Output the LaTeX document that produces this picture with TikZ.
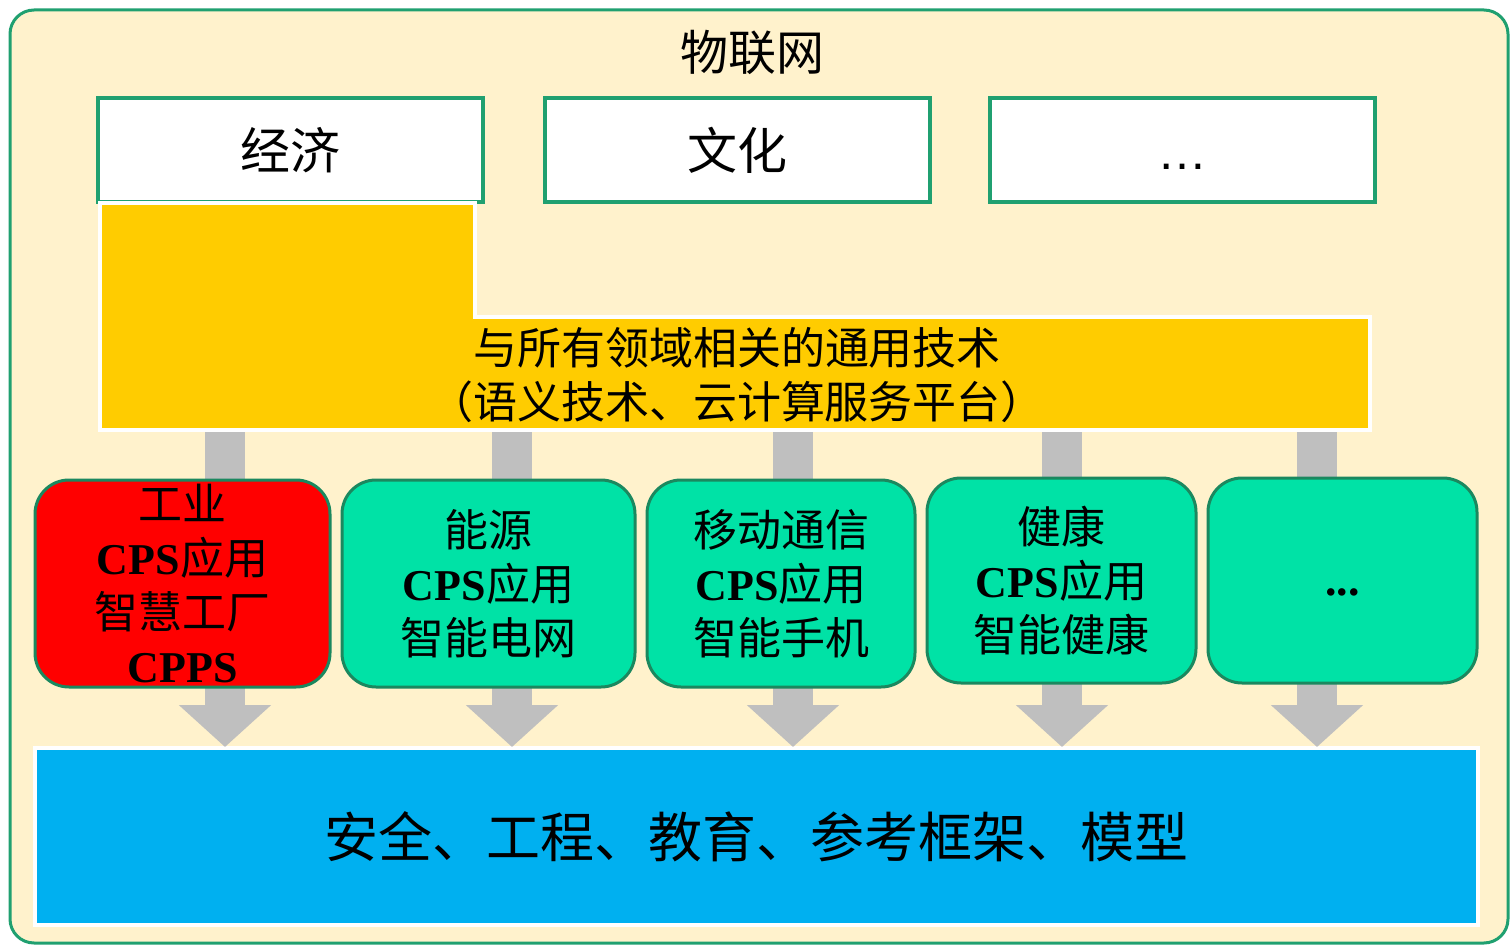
\documentclass[tikz,border=0pt]{standalone}
\usepackage{fontspec}
\newfontfamily\cjk{Noto Sans CJK SC}
\newfontfamily\tms{Liberation Serif}
\newfontfamily\lsans{Liberation Sans}
\usetikzlibrary{arrows.meta,positioning}
\definecolor{framegreen}{RGB}{32,160,112}
\definecolor{paleyellow}{RGB}{255,242,204}
\definecolor{goldyellow}{RGB}{255,204,0}
\definecolor{appgreen}{RGB}{0,226,166}
\definecolor{arrowgray}{RGB}{191,191,191}
\definecolor{skyblue}{RGB}{0,176,240}
\newcommand{\cps}{{\tms\bfseries CPS}}
\tikzset{
  topbox/.style={draw=framegreen, line width=2pt, fill=white, minimum width=192.5pt, minimum height=52pt, font=\cjk\fontsize{25pt}{30pt}\selectfont},
  appbox/.style={draw=framegreen!85!black, line width=1.5pt, fill=appgreen, rounded corners=17pt, inner sep=0pt, align=center, font=\cjk\fontsize{22pt}{27pt}\selectfont},
  flowarrow/.style={draw=arrowgray, line width=20pt, -{Triangle[width=45pt,length=21pt]}},
}

\begin{document}
\begin{tikzpicture}[x=0.5pt,y=-0.5pt]
    \useasboundingbox (0,0) rectangle (1512,947);
    \draw [draw=framegreen, fill=paleyellow, line width=1.5pt, rounded corners=12pt] (10,10) rectangle (1508,943);
    \node [font=\cjk\fontsize{24pt}{28pt}\selectfont] (iot) at (752,52) {物联网};
    % top row
    \node [topbox] (econ) at (290,150) {经济};
    \node [topbox] (cult) at (737,150) {文化};
    \node [topbox] (more) at (1182,150) {\vphantom{经}{\lsans …}};
    % common technology
    \draw [draw=white, fill=goldyellow, line width=2pt] (100,203) -- (475,203) -- (475,317) -- (1370,317) -- (1370,430) -- (100,430) -- cycle;
    \node [align=center, font=\cjk\fontsize{22pt}{27pt}\selectfont] (common) at (737,375) {与所有领域相关的通用技术\\（语义技术、云计算服务平台）};
    % base layer
    \node [draw=white, line width=2pt, fill=skyblue, minimum width=721.5pt, minimum height=88.5pt, font=\cjk\fontsize{27pt}{32pt}\selectfont] (base) at (756.5,836.5) {安全、工程、教育、参考框架、模型};
    \foreach \x [count=\i] in {225,512,793,1062,1317} {
      \coordinate (src\i) at (\x,432);
      \coordinate (dst\i) at (\x,747);
      \draw [flowarrow] (src\i) -- (dst\i);
    }
    % applications
    \node [appbox, fill=red, minimum width=147.5pt, minimum height=103.5pt] (indu) at (182.5,583.5) {工业\\\cps 应用\\智慧工厂\\{\tms\bfseries CPPS}};
    \node [appbox, minimum width=146.5pt, minimum height=103.5pt] (ener) at (488.5,583.5) {能源\\\cps 应用\\智能电网};
    \node [appbox, minimum width=134pt, minimum height=103.5pt] (mobi) at (781,583.5) {移动通信\\\cps 应用\\智能手机};
    \node [appbox, minimum width=134.5pt, minimum height=102.5pt] (heal) at (1061.5,580.5) {健康\\\cps 应用\\智能健康};
    \node [appbox, minimum width=134.5pt, minimum height=102.5pt, font=\tms\bfseries\fontsize{23pt}{27pt}\selectfont] (etc) at (1342.5,580.5) {\vphantom{C}...};
\end{tikzpicture}
\end{document}
